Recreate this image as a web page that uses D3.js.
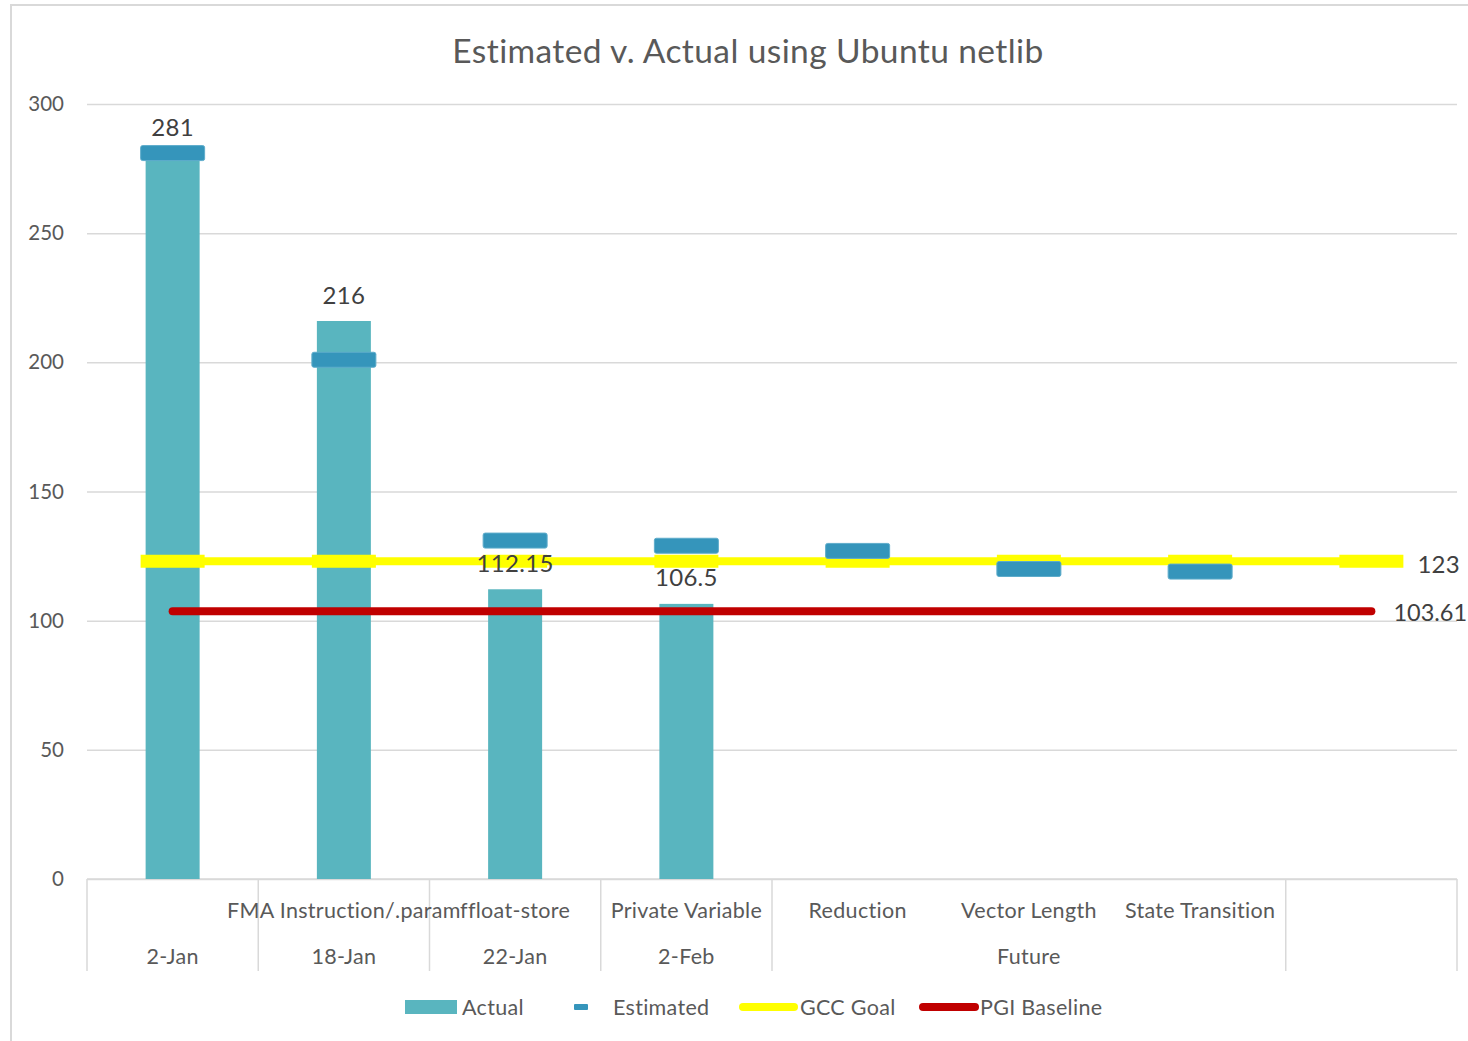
<!DOCTYPE html>
<html>
<head>
<meta charset="utf-8">
<script src="https://cdn.jsdelivr.net/npm/d3@7"></script>
<style>
  body { margin: 0; background: #fff; }
  svg text { font-family: Lato, "Noto Sans", sans-serif; }
</style>
</head>
<body>
<svg id="chart" width="1468" height="1041"></svg>
<script>
// chart data
var categories = ["", "FMA Instruction/.param", "ffloat-store", "Private Variable", "Reduction", "Vector Length", "State Transition", ""];
var groups = ["2-Jan", "18-Jan", "22-Jan", "2-Feb", "Future", "Future", "Future", ""];
var actual = [281, 216, 112.15, 106.5, null, null, null, null];
var estimated = [281, 201, 131, 129, 127, 120, 119, null];
var gccGoal = [123, 123, 123, 123, 123, 123, 123, 123];
var pgiBaseline = [103.61, 103.61, 103.61, 103.61, 103.61, 103.61, 103.61, 103.61];
var yTicks = [0, 50, 100, 150, 200, 250, 300];

var title = "Estimated v. Actual using Ubuntu netlib";

var barColor = "#59b5bf", estColor = "#3595bb", goalColor = "#ffff00", baseColor = "#c00000";
var gridColor = "#d9d9d9", textColor = "#595959", labelColor = "#404040";

var svg = d3.select("#chart");

// outer frame
svg.append("rect")
    .attr("x", 11).attr("y", 5)
    .attr("width", 1480).attr("height", 1060)
    .attr("fill", "none").attr("stroke", "#d9d9d9").attr("stroke-width", 2);

var idx = categories.map((d, i) => i);

var xScale = d3.scaleBand()
    .domain(idx)
    .range([87, 1457])
    .padding(0);

var yScale = d3.scaleLinear()
    .domain([0, 300])
    .range([879, 104]);

var cx = i => xScale(i) + xScale.bandwidth() / 2;

svg.append("text")
    .attr("x", 748).attr("y", 50)
    .attr("text-anchor", "middle").attr("dominant-baseline", "central")
    .attr("font-size", 33.5).attr("letter-spacing", 0.4).attr("fill", textColor)
    .text(title);

// gridlines + y labels
var yAxis = svg.append("g").attr("transform", "translate(87,0)")
    .call(d3.axisLeft(yScale).tickValues(yTicks).tickSize(-1370).tickPadding(23));
yAxis.select(".domain").remove();
yAxis.selectAll("line").attr("stroke", gridColor).attr("stroke-width", 1.5);
yAxis.selectAll("text").attr("font-size", 20.5).attr("fill", textColor)
    .attr("font-family", "Lato, sans-serif");

// category axis (two levels)
svg.append("line").attr("x1", 87).attr("x2", 1457).attr("y1", 879).attr("y2", 879)
    .attr("stroke", gridColor).attr("stroke-width", 1.5);

var bounds = [0];
for (var i = 1; i < groups.length; i++) if (groups[i] != groups[i - 1]) bounds.push(i);
bounds.push(groups.length);

svg.append("g").selectAll("line").data(bounds).enter().append("line")
    .attr("x1", d => d < groups.length ? xScale(d) : xScale.range()[1])
    .attr("x2", d => d < groups.length ? xScale(d) : xScale.range()[1])
    .attr("y1", 879).attr("y2", 971)
    .attr("stroke", gridColor).attr("stroke-width", 1.5);

svg.append("g").selectAll("text").data(idx).enter().append("text")
    .attr("x", d => cx(d)).attr("y", 910)
    .attr("text-anchor", "middle").attr("dominant-baseline", "central")
    .attr("font-size", 21.5).attr("letter-spacing", 0.3).attr("fill", textColor)
    .text(d => categories[d]);

var groupSpans = [];
for (var j = 0; j < bounds.length - 1; j++) {
    groupSpans.push({ name: groups[bounds[j]], a: bounds[j], b: bounds[j + 1] - 1 });
}
svg.append("g").selectAll("text").data(groupSpans).enter().append("text")
    .attr("x", d => (cx(d.a) + cx(d.b)) / 2).attr("y", 956)
    .attr("text-anchor", "middle").attr("dominant-baseline", "central")
    .attr("font-size", 21.5).attr("letter-spacing", 0.3).attr("fill", textColor)
    .text(d => d.name);

// bars
var barW = 54;
var barData = idx.filter(i => actual[i] != null);
svg.append("g").selectAll("rect").data(barData).enter().append("rect")
    .attr("x", d => cx(d) - barW / 2)
    .attr("y", d => yScale(actual[d]))
    .attr("width", barW)
    .attr("height", d => yScale(0) - yScale(actual[d]))
    .attr("fill", barColor);

// PGI baseline
svg.append("path")
    .datum(idx.map(i => ({ i: i, v: pgiBaseline[i] })))
    .attr("d", d3.line().x(d => cx(d.i)).y(d => yScale(d.v)))
    .attr("fill", "none").attr("stroke", baseColor)
    .attr("stroke-width", 8).attr("stroke-linecap", "round");

// GCC goal line + dash markers
svg.append("path")
    .datum(idx.map(i => ({ i: i, v: gccGoal[i] })))
    .attr("d", d3.line().x(d => cx(d.i)).y(d => yScale(d.v)))
    .attr("fill", "none").attr("stroke", goalColor).attr("stroke-width", 8);

var markW = 64;
svg.append("g").selectAll("rect").data(idx).enter().append("rect")
    .attr("x", d => cx(d) - markW / 2)
    .attr("y", d => yScale(gccGoal[d]) - 6.5)
    .attr("width", markW).attr("height", 13)
    .attr("fill", goalColor);

// estimated dash markers
var estData = idx.filter(i => estimated[i] != null);
svg.append("g").selectAll("rect").data(estData).enter().append("rect")
    .attr("x", d => cx(d) - markW / 2)
    .attr("y", d => yScale(estimated[d]) - 7.5)
    .attr("width", markW).attr("height", 15)
    .attr("rx", 2)
    .attr("fill", estColor).attr("stroke", "#5eaccb").attr("stroke-width", 1);

// data labels
svg.append("g").selectAll("text").data(barData).enter().append("text")
    .attr("x", d => cx(d)).attr("y", d => yScale(actual[d]) - 27)
    .attr("text-anchor", "middle").attr("dominant-baseline", "central")
    .attr("font-size", 24).attr("letter-spacing", 0.3).attr("fill", labelColor)
    .text(d => actual[d]);

var last = idx.length - 1;
svg.append("text")
    .attr("x", cx(last) + 46).attr("y", yScale(gccGoal[last]) + 2)
    .attr("dominant-baseline", "central")
    .attr("font-size", 24).attr("letter-spacing", 0.3).attr("fill", labelColor)
    .text(gccGoal[last]);
svg.append("text")
    .attr("x", cx(last) + 22).attr("y", yScale(pgiBaseline[last]) + 1)
    .attr("dominant-baseline", "central")
    .attr("font-size", 23.5).attr("fill", labelColor)
    .text(pgiBaseline[last]);

// legend
var lg = svg.append("g");
var ly = 1007;
lg.append("rect").attr("x", 405).attr("y", ly - 7).attr("width", 52).attr("height", 14).attr("fill", barColor);
lg.append("text").attr("x", 462).attr("y", ly).text("Actual");
lg.append("rect").attr("x", 574).attr("y", ly - 3).attr("width", 14).attr("height", 6).attr("rx", 1).attr("fill", estColor);
lg.append("text").attr("x", 613).attr("y", ly).text("Estimated");
lg.append("line").attr("x1", 743).attr("x2", 794).attr("y1", ly).attr("y2", ly)
    .attr("stroke", goalColor).attr("stroke-width", 8).attr("stroke-linecap", "round");
lg.append("text").attr("x", 800).attr("y", ly).text("GCC Goal");
lg.append("line").attr("x1", 923).attr("x2", 975).attr("y1", ly).attr("y2", ly)
    .attr("stroke", baseColor).attr("stroke-width", 8).attr("stroke-linecap", "round");
lg.append("text").attr("x", 980).attr("y", ly).text("PGI Baseline");
lg.selectAll("text").attr("dominant-baseline", "central").attr("font-size", 21.5)
    .attr("letter-spacing", 0.3).attr("fill", textColor);
</script>
</body>
</html>
